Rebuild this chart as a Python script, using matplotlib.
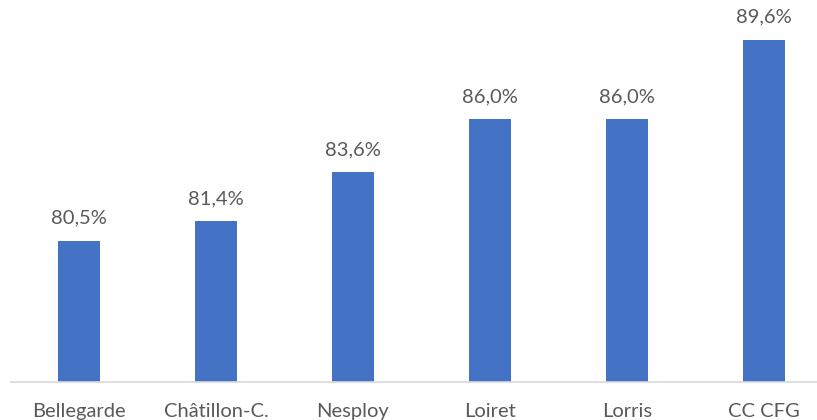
import matplotlib.pyplot as plt

# Data
communes = ["Bellegarde", "Châtillon-C.", "Nesploy", "Loiret", "Lorris", "CC CFG"]
taux = [80.5, 81.4, 83.6, 86.0, 86.0, 89.6]

plt.rcParams["font.family"] = ["Lato", "DejaVu Sans"]

fig = plt.figure(figsize=(8.17, 4.2), dpi=100)
ax = fig.add_axes([10.5 / 817, 38 / 420, 822 / 817, 382 / 420])

x = range(len(communes))
ax.bar(x, taux, width=0.31, color="#4472C4", zorder=2)

# Value labels above each bar
for i, v in zip(x, taux):
    label = f"{v:.1f}%".replace(".", ",")
    ax.annotate(label, (i, v), xytext=(0, 10), textcoords="offset points",
                ha="center", va="bottom", fontsize=14.5, color="#595959")

ax.set_xlim(-0.5, len(communes) - 0.5)
ax.set_ylim(74.1, 91.4)
ax.set_xticks(list(x))
ax.set_xticklabels(communes, fontsize=14.5, color="#595959")
ax.tick_params(axis="x", length=0, pad=15)
ax.set_yticks([])

for side in ["top", "right", "left"]:
    ax.spines[side].set_visible(False)
ax.spines["bottom"].set_color("#D9D9D9")
ax.spines["bottom"].set_linewidth(1.2)

fig.savefig("out.png", dpi=100)
